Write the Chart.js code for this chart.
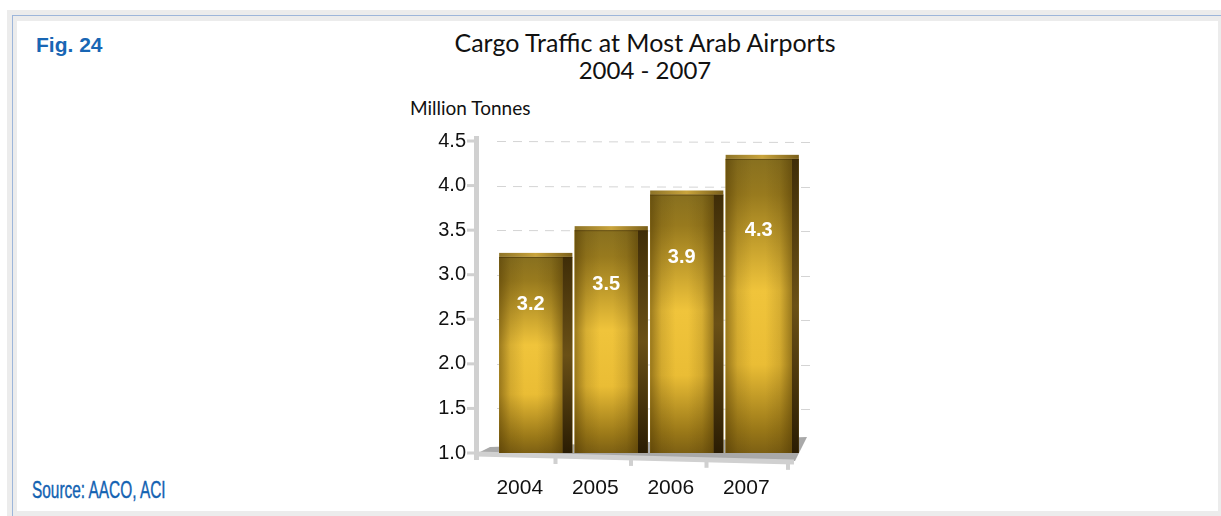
<!DOCTYPE html>
<html>
<head>
<meta charset="utf-8">
<title>Cargo Traffic at Most Arab Airports</title>
<script src="https://cdn.jsdelivr.net/npm/chart.js@4.4.1/dist/chart.umd.min.js"></script>
<style>
  html, body { margin: 0; padding: 0; background: #fff; }
  body { width: 1221px; height: 516px; position: relative; overflow: hidden; }
  .frame { position: absolute; left: 7px; top: 10px; right: 0; bottom: 0; background: #ececec; }
  .rule-top { position: absolute; left: 12px; top: 15px; right: 0; height: 1px; background: #9db6da; }
  .rule-left { position: absolute; left: 12px; top: 15px; bottom: 0; width: 1px; background: #9db6da; }
  .panel { position: absolute; left: 17px; top: 21px; width: 1201px; height: 490px; background: #fff; }
  .txt { position: absolute; white-space: nowrap; color: #111; }
  #fig { left: 36px; top: 32px; font: bold 21px "Liberation Sans", Arial, sans-serif; color: #1866b4; line-height: 26px; }
  #source { left: 32px; top: 476px; font: 23px "Liberation Sans", Arial, sans-serif; color: #1262b2; line-height: 28px;
            transform: scaleX(0.67); transform-origin: 0 0; -webkit-text-stroke: 0.4px #1262b2; }
  #title1 { left: 395px; width: 500px; text-align: center; top: 27px; font: 25px Lato, sans-serif; line-height: 30px; }
  #title2 { left: 395px; width: 500px; text-align: center; top: 55px; font: 24px Lato, sans-serif; line-height: 30px; }
  #unit { left: 410px; top: 96px; font: 19px Lato, sans-serif; line-height: 24px; }
  #chart { position: absolute; left: 0; top: 0; }
</style>
</head>
<body>
<div class="frame"></div>
<div class="rule-top"></div>
<div class="rule-left"></div>
<div class="panel"></div>
<div class="txt" id="fig">Fig. 24</div>
<div class="txt" id="title1">Cargo Traffic at Most Arab Airports</div>
<div class="txt" id="title2">2004 - 2007</div>
<div class="txt" id="unit">Million Tonnes</div>
<div class="txt" id="source">Source: AACO, ACI</div>
<canvas id="chart" width="1221" height="516"></canvas>
<script>
const years = ["2004", "2005", "2006", "2007"];
const cargo = [3.2, 3.5, 3.9, 4.3];   // million tonnes
const yMin = 1.0, yMax = 4.5, yStep = 0.5;

// pseudo-3D box look: floor, axes, gridlines, then shaded bars
const boxPlugin = {
  id: "box3d",
  beforeDatasetsDraw(chart) {
    const { ctx, chartArea: a, scales } = chart;
    const L = a.left, R = a.right, B = a.bottom;
    ctx.save();

    // dashed gridlines
    ctx.strokeStyle = "#d4d4d4";
    ctx.lineWidth = 1;
    ctx.setLineDash([9, 7]);
    scales.y.ticks.forEach(t => {
      if (t.value === yMin) return;
      const y = Math.round(scales.y.getPixelForValue(t.value)) + 0.5;
      ctx.beginPath();
      ctx.moveTo(L - 1, y);
      ctx.lineTo(R + 10, y + 1);
      ctx.stroke();
    });
    ctx.setLineDash([]);

    // floor
    ctx.fillStyle = "#a9a9a9";
    ctx.beginPath();
    ctx.moveTo(L - 8, B - 6);
    ctx.lineTo(R + 7, B - 16);
    ctx.lineTo(R - 5, B + 8);
    ctx.lineTo(L - 20, B);
    ctx.closePath();
    ctx.fill();

    // x axis (slanted) with ticks
    ctx.strokeStyle = "#d0d0d0";
    ctx.lineWidth = 5;
    ctx.beginPath();
    ctx.moveTo(L - 22, B + 1);
    ctx.lineTo(R - 6, B + 9);
    ctx.stroke();
    const w = (R - L) / years.length;
    ctx.fillStyle = "#d0d0d0";
    for (let i = 1; i <= years.length; i++) {
      const tx = L + i * w - 18 + (i === years.length ? 6 : 0);
      const ty = B + 1 + (tx - (L - 22)) / (R - 6 - (L - 22)) * 8;
      ctx.fillRect(tx - 2, ty, 4, 8);
    }

    // y axis with ticks
    ctx.fillRect(L - 24, a.top - 5, 5, B - a.top + 12);
    scales.y.ticks.forEach(t => {
      const y = scales.y.getPixelForValue(t.value);
      ctx.fillRect(L - 31, y - 1.5, 7, 3);
    });
    ctx.restore();
  },
  afterDatasetsDraw(chart) {
    const { ctx, chartArea } = chart;
    const meta = chart.getDatasetMeta(0);
    ctx.save();
    meta.data.forEach((el, i) => {
      const p = el.getProps(["x", "y", "base", "width"], true);
      const y = p.y, base = Math.min(p.base, chartArea.bottom);
      const left = p.x - p.width / 2, right = p.x + p.width / 2;
      const side = i === meta.data.length - 1 ? 7 : 10;
      const fr = right - side;
      const h = base - y;

      // front face: vertical glow
      const gv = ctx.createLinearGradient(0, y, 0, base);
      gv.addColorStop(0, "#88701f");
      gv.addColorStop(0.12, "#987a1e");
      gv.addColorStop(0.45, "#f0c43b");
      gv.addColorStop(0.7, "#eabd35");
      gv.addColorStop(0.92, "#9a7818");
      gv.addColorStop(1, "#7d6013");
      ctx.fillStyle = gv;
      ctx.fillRect(left, y, fr - left, h);

      // front face: darker edges
      const gh = ctx.createLinearGradient(left, 0, fr, 0);
      gh.addColorStop(0, "rgba(70,48,0,0.5)");
      gh.addColorStop(0.18, "rgba(70,48,0,0.15)");
      gh.addColorStop(0.4, "rgba(70,48,0,0)");
      gh.addColorStop(0.6, "rgba(70,48,0,0)");
      gh.addColorStop(0.82, "rgba(70,48,0,0.15)");
      gh.addColorStop(1, "rgba(70,48,0,0.5)");
      ctx.fillStyle = gh;
      ctx.fillRect(left, y, fr - left, h);

      // side face
      const gs = ctx.createLinearGradient(0, y, 0, base);
      gs.addColorStop(0, "#3f2d08");
      gs.addColorStop(0.5, "#6a5016");
      gs.addColorStop(1, "#2a1c03");
      ctx.fillStyle = gs;
      ctx.fillRect(fr, y, side, h);

      // top lip
      const gl = ctx.createLinearGradient(left, 0, right, 0);
      gl.addColorStop(0, "#8e7428");
      gl.addColorStop(0.5, "#c9a43c");
      gl.addColorStop(1, "#7a5f1a");
      ctx.fillStyle = gl;
      ctx.fillRect(left, y - 4, right - left, 4);
      ctx.fillStyle = "rgba(60,40,0,0.5)";
      ctx.fillRect(left, y, right - left, 1);

      // value label
      ctx.fillStyle = "#ffffff";
      ctx.font = "bold 20px 'Liberation Sans', Arial, sans-serif";
      ctx.textAlign = "center";
      ctx.textBaseline = "middle";
      ctx.fillText(cargo[i].toFixed(1), (left + fr) / 2, y + h * 0.245);
    });
    ctx.restore();
  }
};

new Chart(document.getElementById("chart"), {
  type: "bar",
  data: {
    labels: years,
    datasets: [{
      data: cargo,
      base: yMin,
      backgroundColor: "#c9a030",
      borderWidth: 0,
      categoryPercentage: 1,
      barPercentage: 0.97
    }]
  },
  options: {
    responsive: false,
    animation: false,
    layout: { padding: { left: 400, right: 421, top: 141, bottom: 0 } },
    plugins: { legend: { display: false }, tooltip: { enabled: false } },
    scales: {
      y: {
        min: yMin,
        max: yMax,
        afterFit(scale) { scale.width = 98; },
        ticks: {
          stepSize: yStep,
          padding: 32,
          color: "#111",
          font: { family: "'Liberation Sans', Arial, sans-serif", size: 20 },
          callback: v => Number(v).toFixed(1)
        },
        grid: { display: false, drawTicks: false },
        border: { display: false }
      },
      x: {
        afterFit(scale) { scale.height = 63; },
        ticks: {
          padding: 23,
          labelOffset: -16,
          color: "#111",
          font: { family: "'Liberation Sans', Arial, sans-serif", size: 21 }
        },
        grid: { display: false, drawTicks: false },
        border: { display: false }
      }
    }
  },
  plugins: [boxPlugin]
});
</script>
</body>
</html>
